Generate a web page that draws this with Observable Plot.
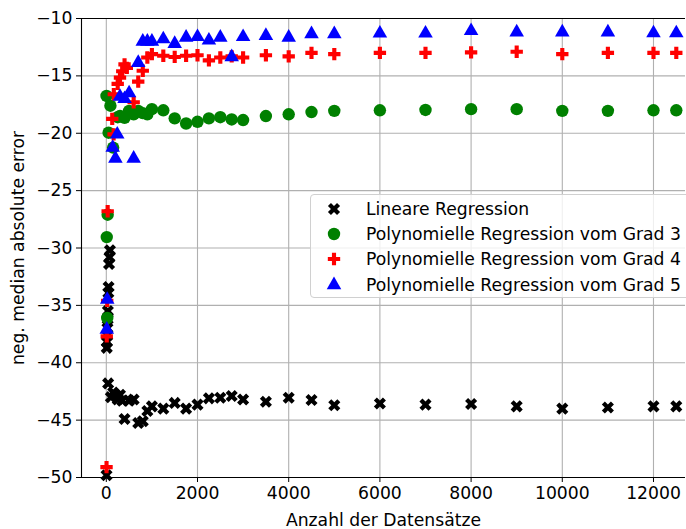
<!DOCTYPE html>
<html><head><meta charset="utf-8">
<script src="https://cdn.jsdelivr.net/npm/d3@7"></script>
<script src="https://cdn.jsdelivr.net/npm/@observablehq/plot@0.6"></script>
<style>
body{margin:0;background:#fff;}
#wrap{position:relative;width:686px;height:529px;font-family:"DejaVu Sans",sans-serif;overflow:hidden;}
#legend{position:absolute;left:310px;top:194px;width:400px;height:104px;box-sizing:border-box;border:1px solid #d0d0d0;border-radius:4px;background:rgba(255,255,255,0.8);}
.row{position:absolute;left:0;height:24px;font-size:17.2px;line-height:24px;color:#000;white-space:nowrap;}
.row svg{position:absolute;left:13px;top:2px;}
.row span{position:absolute;left:55px;top:0;}
</style></head><body><div id="wrap"></div>
<script>
// Lineare Regression
const linX = [5, 10, 15, 20, 25, 30, 35, 40, 45, 50, 60, 70, 80, 100, 150, 200, 250, 300, 350, 400, 500, 600, 700, 800, 900, 1000, 1250, 1500, 1750, 2000, 2250, 2500, 2750, 3000, 3500, 4000, 4500, 5000, 6000, 7000, 8000, 9000, 10000, 11000, 12000, 12500];
const linY = [-49.8, -38.7, -38.2, -37.6, -37.0, -36.2, -35.5, -41.8, -33.9, -33.4, -31.4, -30.8, -30.2, -43.0, -42.6, -42.8, -43.2, -42.8, -43.3, -44.9, -43.3, -43.2, -45.25, -45.1, -44.2, -43.8, -44.0, -43.5, -44.0, -43.65, -43.1, -43.05, -42.9, -43.2, -43.4, -43.05, -43.25, -43.7, -43.55, -43.65, -43.6, -43.8, -44.0, -43.9, -43.8, -43.8];
// Polynomielle Regression vom Grad 3
const p3X = [5, 10, 20, 30, 50, 90, 150, 250, 300, 400, 500, 600, 700, 800, 900, 1000, 1250, 1500, 1750, 2000, 2250, 2500, 2750, 3000, 3500, 4000, 4500, 5000, 6000, 7000, 8000, 9000, 10000, 11000, 12000, 12500];
const p3Y = [-16.75, -29.05, -36.1, -27.1, -19.95, -17.6, -21.25, -18.6, -18.5, -18.65, -18.05, -18.35, -18.05, -18.25, -18.35, -17.9, -18.0, -18.7, -19.15, -19.0, -18.7, -18.6, -18.8, -18.85, -18.5, -18.35, -18.15, -18.05, -18.0, -17.97, -17.9, -17.9, -18.05, -18.05, -18.0, -18.0];
// Polynomielle Regression vom Grad 4
const p4X = [5, 10, 20, 30, 130, 160, 165, 250, 300, 350, 400, 450, 600, 700, 800, 900, 1000, 1250, 1500, 1750, 2000, 2250, 2500, 2750, 3000, 3500, 4000, 4500, 5000, 6000, 7000, 8000, 9000, 10000, 11000, 12000, 12500];
const p4Y = [-49.1, -37.7, -34.6, -26.8, -18.75, -20.1, -16.6, -15.7, -15.15, -14.6, -14.0, -14.3, -17.3, -15.5, -14.55, -13.4, -13.1, -13.25, -13.35, -13.25, -13.2, -13.65, -13.4, -13.3, -13.4, -13.2, -13.3, -13.0, -13.1, -13.0, -13.0, -12.95, -12.9, -13.1, -13.0, -13.0, -13.0];
// Polynomielle Regression vom Grad 5
const p5X = [10, 20, 140, 200, 240, 300, 400, 500, 600, 700, 800, 900, 1000, 1250, 1500, 1750, 2000, 2250, 2500, 2750, 3000, 3500, 4000, 4500, 5000, 6000, 7000, 8000, 9000, 10000, 11000, 12000, 12500];
const p5Y = [-37.1, -34.5, -21.25, -22.2, -20.1, -16.8, -17.0, -16.5, -22.2, -13.85, -12.0, -12.0, -12.0, -11.8, -12.2, -11.65, -11.6, -11.9, -11.65, -13.35, -11.6, -11.5, -11.65, -11.35, -11.35, -11.3, -11.3, -11.07, -11.2, -11.2, -11.2, -11.27, -11.27];

const xTicks = [0, 2000, 4000, 6000, 8000, 10000, 12000];
const yTicks = [-10, -15, -20, -25, -30, -35, -40, -45, -50];
const seriesNames = ["Lineare Regression", "Polynomielle Regression vom Grad 3", "Polynomielle Regression vom Grad 4", "Polynomielle Regression vom Grad 5"];

const styles = [
  {symbol: "cross", rotate: 45, fill: "black", r: 5.4},
  {symbol: "circle", rotate: 0, fill: "green", r: 6.2},
  {symbol: "cross", rotate: 0, fill: "red", r: 5.2},
  {symbol: "triangle", rotate: 0, fill: "blue", r: 5.4}
];
const sets = [[linX, linY], [p3X, p3Y], [p4X, p4Y], [p5X, p5Y]];
const data = sets.map(([xs, ys], k) => xs.map((x, i) => ({x, y: ys[i], s: seriesNames[k]})));

const xDomain = [-544, 12702];
const yDomain = [-50, -10];
const FS = 17.2;

const chart = Plot.plot({
  width: 686,
  height: 529,
  marginLeft: 81,
  marginRight: 1,
  marginTop: 18,
  marginBottom: 52,
  style: {fontFamily: "DejaVu Sans, sans-serif", fontSize: FS + "px", color: "black", background: "white"},
  x: {domain: xDomain, ticks: xTicks, tickFormat: d3.format("d"), label: "Anzahl der Datensätze", labelArrow: "none"},
  y: {domain: yDomain, ticks: yTicks, tickFormat: d3.format("d"), label: "neg. median absolute error", labelArrow: "none"},
  marks: [
    Plot.gridX(xTicks, {stroke: "#b0b0b0", strokeOpacity: 1, strokeWidth: 1.1}),
    Plot.gridY(yTicks, {stroke: "#b0b0b0", strokeOpacity: 1, strokeWidth: 1.1}),
    Plot.axisX(xTicks, {tickSize: 5, tickPadding: 4, fontSize: FS, tickFormat: d3.format("d"), label: "Anzahl der Datensätze", labelAnchor: "center", labelOffset: 48, labelArrow: "none"}),
    Plot.axisY(yTicks, {tickSize: 5, tickPadding: 4, fontSize: FS, tickFormat: d3.format("d"), label: "neg. median absolute error", labelAnchor: "center", labelOffset: 70, labelArrow: "none"}),
    ...data.map((d, k) => Plot.dot(d, {x: "x", y: "y", symbol: styles[k].symbol, rotate: styles[k].rotate, r: styles[k].r, fill: styles[k].fill, stroke: "none"})),
    Plot.ruleX([xDomain[0]], {stroke: "black", strokeWidth: 1.1}),
    Plot.ruleY(yDomain, {stroke: "black", strokeWidth: 1.1})
  ]
});
const wrap = document.getElementById("wrap");
wrap.appendChild(chart);

// legend
const legend = document.createElement("div");
legend.id = "legend";
const rowTops = [2, 27, 52, 78];
seriesNames.forEach((name, k) => {
  const row = document.createElement("div");
  row.className = "row";
  row.style.top = rowTops[k] + "px";
  const st = styles[k];
  const sym = {circle: d3.symbolCircle, cross: d3.symbolCross, triangle: d3.symbolTriangle}[st.symbol];
  const path = d3.symbol(sym, Math.PI * st.r * st.r)();
  row.innerHTML = `<svg width="20" height="20" viewBox="-10 -10 20 20"><path d="${path}" fill="${st.fill}" transform="rotate(${st.rotate})"/></svg><span>${name}</span>`;
  legend.appendChild(row);
});
wrap.appendChild(legend);
</script>
</body></html>
